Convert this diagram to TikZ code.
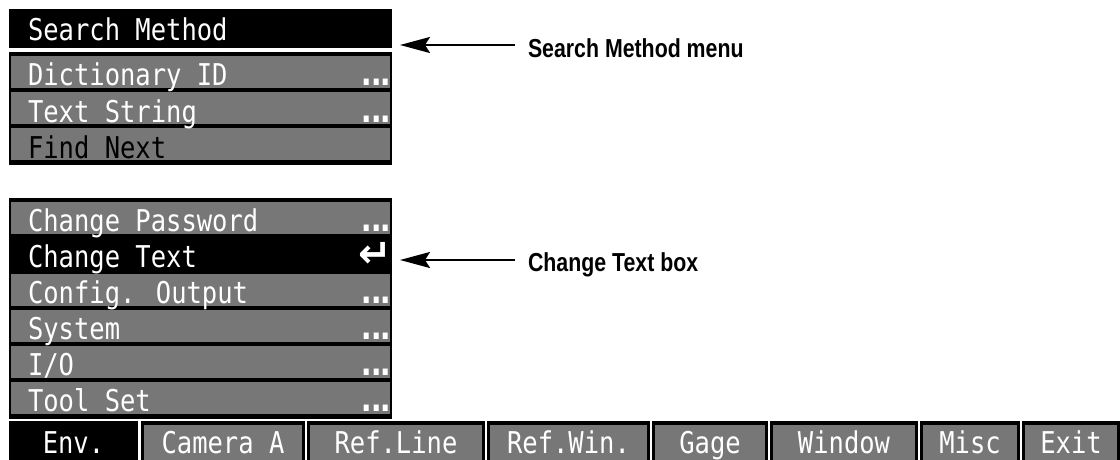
\documentclass[tikz,border=0pt]{standalone}
\usepackage{fontspec}
\usetikzlibrary{arrows.meta,calc}
\newfontfamily\lcd[FakeStretch=0.85]{DejaVu Sans Mono}
\newfontfamily\symf{DejaVu Sans}
\newfontfamily\lab[FakeStretch=0.82]{Liberation Sans}
\definecolor{lcdgray}{HTML}{777777}
\begin{document}
\begin{tikzpicture}[x=1pt,y=-1pt,
  cell/.style={anchor=north west,inner sep=0pt,outer sep=0pt,draw=none},
  grayrow/.style={cell,fill=lcdgray,minimum width=379pt,minimum height=32pt},
  lcdtext/.style={inner sep=0pt,outer sep=0pt,text=white,font=\lcd\fontsize{30}{30}\selectfont},
  dots/.style={inner sep=0pt,outer sep=0pt,anchor=base east,text=white,font=\lcd\bfseries\fontsize{36}{36}\selectfont},
  callout/.style={inner sep=0pt,outer sep=0pt,anchor=base west,text=black,font=\lab\bfseries\fontsize{26}{26}\selectfont},
  arr/.style={line width=2.2pt,-{Stealth[length=30pt,width=16pt,inset=5pt]}}]
\useasboundingbox (0,0) rectangle (1120,460);
\fill[white] (0,0) rectangle (1120,460);

% ---------- Search Method menu ----------
\node[cell,fill=black,minimum width=383pt,minimum height=39pt] (smbar) at (9,9) {};
\node[lcdtext,anchor=base west] (smtxt) at (28,41) {Search Method};
\node[cell,fill=black,minimum width=383pt,minimum height=113pt] (smbox) at (9,52) {};
\node[grayrow] (rdict) at (11,56) {};
\node[grayrow] (rtext) at (11,92) {};
\node[grayrow] (rfind) at (11,128) {};
\node[lcdtext,anchor=base west] (tdict) at (28,86) {Dictionary ID};
\node[dots] (ddict) at (395,86) {.\kern-9pt.\kern-9pt.};
\node[lcdtext,anchor=base west] (ttext) at (28,122) {Text String};
\node[dots] (dtext) at (395,122) {.\kern-9pt.\kern-9pt.};
\node[lcdtext,anchor=base west,text=black] (tfind) at (28,158) {Find Next};

% ---------- Environment menu ----------
\node[cell,fill=black,minimum width=383pt,minimum height=221pt] (envbox) at (9,198) {};
\node[grayrow] (rpass) at (11,202) {};
\node[grayrow] (rconf) at (11,274) {};
\node[grayrow] (rsys) at (11,310) {};
\node[grayrow] (rio) at (11,346) {};
\node[grayrow] (rtool) at (11,382) {};
\node[lcdtext,anchor=base west] (tpass) at (28,231) {Change Password};
\node[dots] (dpass) at (395,231) {.\kern-9pt.\kern-9pt.};
\node[lcdtext,anchor=base west] (tchg) at (28,267) {Change Text};
\node[inner sep=0pt,text=white,font=\symf\bfseries\fontsize{40}{40}\selectfont] (tret) at (375,255) {↵};
\node[lcdtext,anchor=base west] (tconf) at (28,303) {Config. Output};
\node[dots] (dconf) at (395,303) {.\kern-9pt.\kern-9pt.};
\node[lcdtext,anchor=base west] (tsys) at (28,339) {System};
\node[dots] (dsys) at (395,339) {.\kern-9pt.\kern-9pt.};
\node[lcdtext,anchor=base west] (tio) at (28,375) {I/O};
\node[dots] (dio) at (395,375) {.\kern-9pt.\kern-9pt.};
\node[lcdtext,anchor=base west] (ttool) at (28,411) {Tool Set};
\node[dots] (dtool) at (395,411) {.\kern-9pt.\kern-9pt.};

% ---------- Softkey bar ----------
\node[cell,fill=black,minimum width=129pt,minimum height=39pt] (kenv) at (9,421) {};
\node[lcdtext,anchor=base] (tenv) at (73.5,453) {Env.};
\foreach \n/\a/\b/\t in {cam/141/305/Camera A,rline/307/485/Ref.Line,rwin/487/650/Ref.Win.,gage/652/768/Gage,win/770/918/Window,misc/920/1020/Misc,exit/1022/1120/Exit}{
  \node[cell,fill=black,minimum width=\b pt-\a pt,minimum height=39pt] (k\n) at (\a,421) {};
  \node[cell,fill=lcdgray,minimum width=\b pt-\a pt-6pt,minimum height=35pt] (g\n) at (\a+3,425) {};
  \node[lcdtext,anchor=base] (t\n) at ({(\a+\b)/2},453) {\t};
}

% ---------- Callouts ----------
\node[callout] (lsm) at (528,58) {Search Method menu};
\node[callout] (lct) at (528,271) {Change Text box};
\coordinate (tipsm) at (400,45);
\coordinate (tipct) at (400,260);
\draw[arr] ($(lsm.west |- tipsm)+(-13,0)$) -- (tipsm);
\draw[arr] ($(lct.west |- tipct)+(-13,0)$) -- (tipct);
\end{tikzpicture}
\end{document}
